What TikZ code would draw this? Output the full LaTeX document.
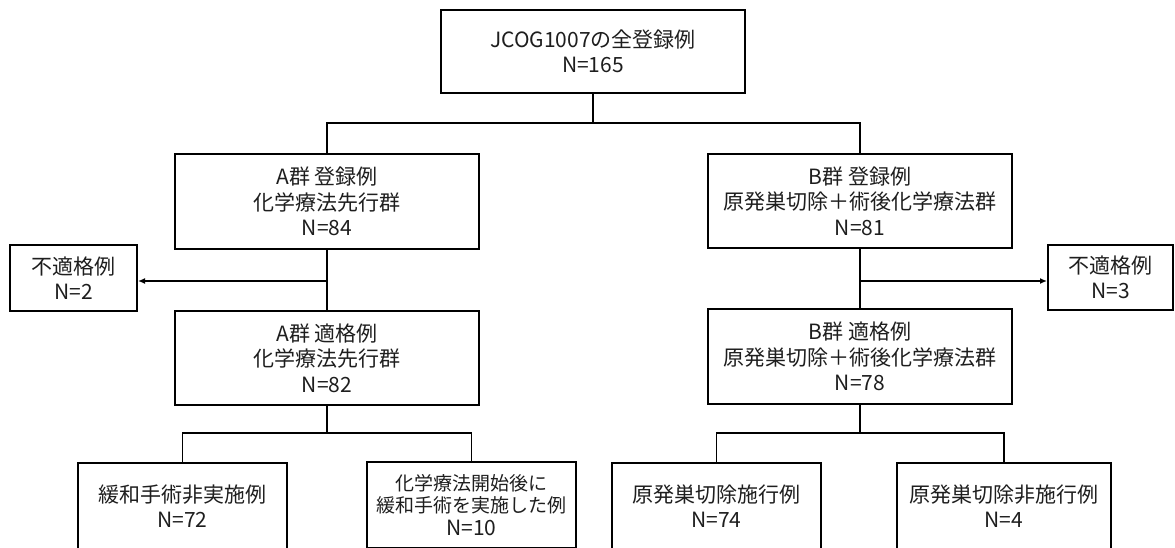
\documentclass[tikz,border=0pt]{standalone}
\usepackage{fontspec}
\setmainfont{Noto Sans CJK JP}
\usetikzlibrary{arrows.meta}
\definecolor{txt}{RGB}{30,30,30}
\begin{document}
\begin{tikzpicture}[x=1pt,y=-1pt,
  box/.style={draw=black, line width=2pt, inner sep=0pt, align=center,
    text=txt, font=\fontsize{21}{25.5}\selectfont},
  smallbox/.style={box, font=\fontsize{19}{22.5}\selectfont},
  conn/.style={draw=black, line width=1.5pt},
  thickconn/.style={draw=black, line width=2.6pt},
  arr/.style={conn, -{Latex[length=7pt,width=6pt]}}]
\useasboundingbox (0,0) rectangle (1175,547);
\clip (0,0) rectangle (1175,547);
\fill[white] (0,0) rectangle (1175,547);
% boxes
\node[box, minimum width=304pt, minimum height=83pt] (top) at (593,51.5) {JCOG1007の全登録例\\N=165};
\node[box, minimum width=304pt, minimum height=95pt] (areg) at (327,201.5) {A群 登録例\\化学療法先行群\\N=84};
\node[box, minimum width=304pt, minimum height=94pt] (breg) at (860,201) {B群 登録例\\原発巣切除＋術後化学療法群\\N=81};
\node[box, minimum width=127pt, minimum height=66pt] (aexcl) at (73.5,278) {不適格例\\N=2};
\node[box, minimum width=125pt, minimum height=65pt] (bexcl) at (1110.5,277.5) {不適格例\\N=3};
\node[box, minimum width=304pt, minimum height=94pt] (aelig) at (327,358) {A群 適格例\\化学療法先行群\\N=82};
\node[box, minimum width=304pt, minimum height=95pt] (belig) at (860,356.5) {B群 適格例\\原発巣切除＋術後化学療法群\\N=78};
\node[box, minimum width=209pt, minimum height=86pt] (a1) at (182.5,506) {緩和手術非実施例\\N=72};
\node[smallbox, minimum width=209pt, minimum height=86pt] (a2) at (471.5,505) {化学療法開始後に\\緩和手術を実施した例\\{\fontsize{21}{22.5}\selectfont N=10}};
\node[box, minimum width=209pt, minimum height=86pt] (b1) at (716.5,506) {原発巣切除施行例\\N=74};
\node[box, minimum width=214pt, minimum height=86pt] (b2) at (1004,506) {原発巣切除非施行例\\N=4};
% junctions
\coordinate (j0) at (593,123);
\coordinate (ja) at (327,281);
\coordinate (jb) at (860,281);
\coordinate (ka) at (327,433);
\coordinate (kb) at (860,433);
% connectors
\draw[conn] (top.south) -- (j0);
\draw[conn] (areg.north) -- (areg.north |- j0) -- (breg.north |- j0) -- (breg.north);
\draw[conn] (areg.south) -- (aelig.north);
\draw[conn] (breg.south) -- (belig.north);
\draw[arr] (ja) -- (ja -| aexcl.east);
\draw[arr] (jb) -- (jb -| bexcl.west);
\draw[thickconn] (aelig.south) -- (ka);
\draw[conn] (belig.south) -- (kb);
\draw[conn] (a1.north) -- (a1.north |- ka) -- (a2.north |- ka) -- (a2.north);
\draw[conn] (b1.north) -- (b1.north |- kb) -- (b2.north |- kb) -- (b2.north);
\end{tikzpicture}
\end{document}
